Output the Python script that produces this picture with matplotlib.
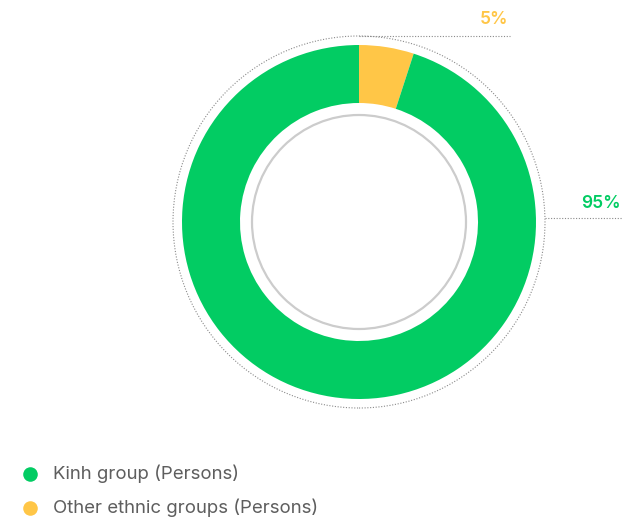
import matplotlib
matplotlib.use("Agg")
import matplotlib.pyplot as plt
from matplotlib.patches import Circle

categories = ["Kinh group (Persons)", "Other ethnic groups (Persons)"]
shares = [95, 5]
share_labels = ["95%", "5%"]
colors = ["#02CC63", "#FFC647"]

W, H = 623, 522
fig = plt.figure(figsize=(W / 100, H / 100), dpi=100)
ax = fig.add_axes([0, 0, 1, 1])

cx, cy = 359, H - 222
r_out, r_in = 177, 119

# Donut: other groups slice starts at 12 o'clock, clockwise
ax.pie(shares[::-1], colors=colors[::-1], center=(cx, cy), radius=r_out,
       startangle=90, counterclock=False,
       wedgeprops=dict(width=r_out - r_in, linewidth=0, antialiased=True))

# Inner decorative ring and outer dotted guide circle
ax.add_patch(Circle((cx, cy), 107, fill=False, edgecolor="#cccccc", lw=1.6))
ax.add_patch(Circle((cx, cy), 186, fill=False, edgecolor="#8a8a8a", lw=0.8,
                    linestyle=(0, (1, 1.5))))

# Leader lines
ax.plot([cx, 510], [H - 36, H - 36], color="#8a8a8a", lw=0.8, linestyle=(0, (1, 1.5)))
ax.plot([cx + 186, 623], [H - 218, H - 218], color="#8a8a8a", lw=0.8, linestyle=(0, (1, 1.5)))

# Percentage labels
ax.text(508, H - 20, share_labels[1], color=colors[1], fontsize=12.5, fontweight="semibold",
        family="Inter", ha="right", va="center")
ax.text(621, H - 203, share_labels[0], color=colors[0], fontsize=12.5, fontweight="semibold",
        family="Inter", ha="right", va="center")

# Legend
for i, (lab, col) in enumerate(zip(categories, colors)):
    y = H - (474 + 34 * i)
    ax.scatter([30], [y], s=110, color=col, linewidths=0)
    ax.text(53, y, lab, color="#5e5e5e", fontsize=13.4, family="Inter",
            ha="left", va="center")

ax.set_xlim(0, W)
ax.set_ylim(0, H)
ax.set_aspect("equal")
ax.axis("off")

fig.savefig("out.png", dpi=100)
